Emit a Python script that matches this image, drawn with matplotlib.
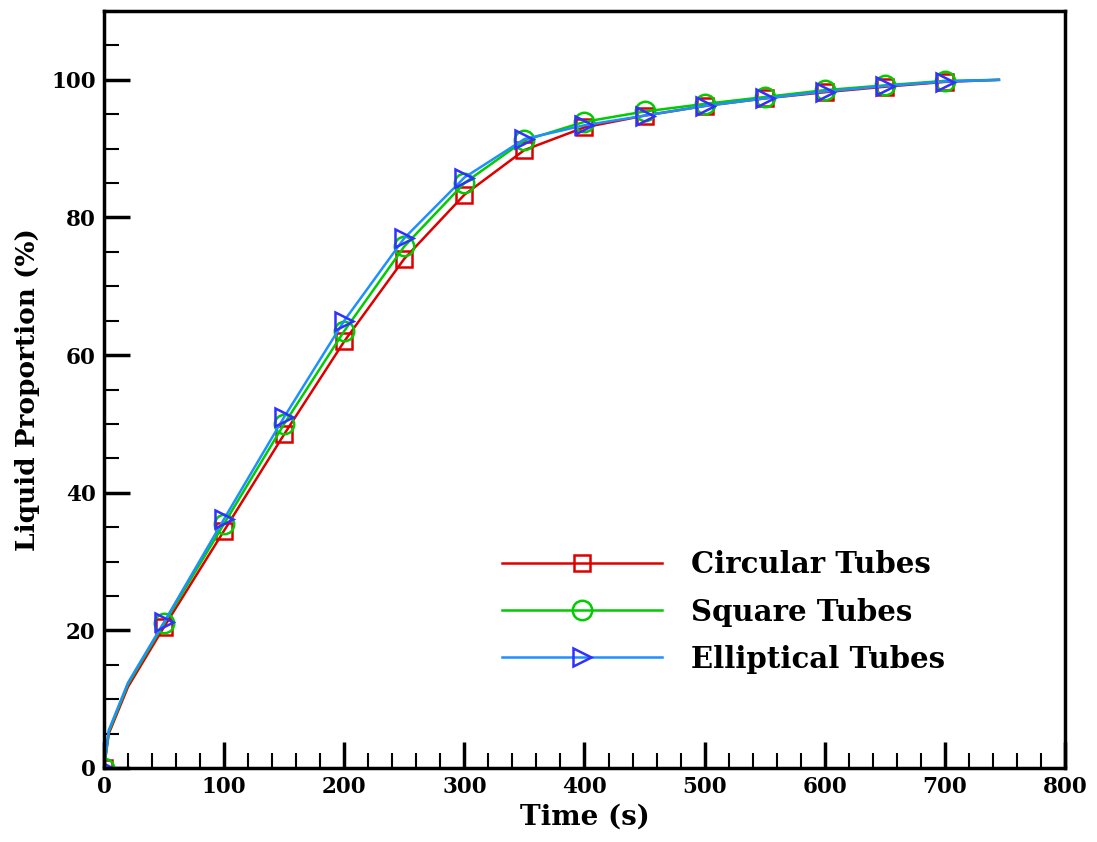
import matplotlib
matplotlib.use("Agg")
import matplotlib.pyplot as plt
from matplotlib.ticker import MultipleLocator

# time (s) for the lines, markers sit every 50 s
t = [0, 4, 20, 50, 100, 150, 200, 250, 300, 350, 400, 450, 500, 550, 600, 650, 700, 745]
circular = [0, 5.0, 11.8, 20.5, 34.5, 48.5, 62.0, 74.0, 83.3, 89.8, 93.1, 94.8, 96.2, 97.3, 98.2, 99.0, 99.7, 100]
square = [0, 5.3, 12.2, 21.0, 35.5, 50.0, 63.5, 75.8, 85.0, 91.2, 93.9, 95.4, 96.5, 97.5, 98.5, 99.2, 99.85, 100]
elliptical = [0, 5.5, 12.4, 21.2, 36.2, 51.0, 65.0, 77.0, 85.8, 91.4, 93.4, 94.8, 96.2, 97.3, 98.3, 99.1, 99.75, 100]
labels = ["Circular Tubes", "Square Tubes", "Elliptical Tubes"]

plt.rcParams['font.family'] = 'DejaVu Serif'
plt.rcParams['font.weight'] = 'bold'

fig = plt.figure(figsize=(10.97, 8.42), dpi=100)
ax = fig.add_axes([0.0948, 0.0879, 0.876, 0.899])

mk = [0] + list(range(3, 17))
ax.plot(t, circular, color='#dd0000', lw=1.8, marker='s', ms=11, mfc='none',
        mec='#dd0000', mew=1.8, markevery=mk, label=labels[0])
ax.plot(t, square, color='#00cc00', lw=1.8, marker='o', ms=14, mfc='none',
        mec='#00cc00', mew=1.8, markevery=mk, label=labels[1])
ax.plot(t, elliptical, color='#1e8fff', lw=1.8, marker='>', ms=13, mfc='none',
        mec='#3030ff', mew=1.8, markevery=mk, label=labels[2])

ax.set_xlim(0, 800)
ax.set_ylim(0, 110)
ax.xaxis.set_major_locator(MultipleLocator(100))
ax.xaxis.set_minor_locator(MultipleLocator(20))
ax.yaxis.set_major_locator(MultipleLocator(20))
ax.yaxis.set_minor_locator(MultipleLocator(5))
ax.tick_params(which='major', direction='in', length=19, width=2.5, labelsize=15.5, pad=6)
ax.tick_params(which='minor', direction='in', length=11, width=1.5)
ax.tick_params(top=False, right=False)
for s in ax.spines.values():
    s.set_linewidth(2.5)

ax.set_xlabel("Time (s)", fontsize=20, fontweight='bold', labelpad=4)
ax.set_ylabel("Liquid Proportion (%)", fontsize=19, fontweight='bold', labelpad=8)

ax.legend(loc='center left', bbox_to_anchor=(0.414, 0.206), frameon=False,
          fontsize=21, handlelength=5.5, handletextpad=1.0, labelspacing=0.62,
          borderpad=0, borderaxespad=0)

fig.savefig("out.png", dpi=100)
